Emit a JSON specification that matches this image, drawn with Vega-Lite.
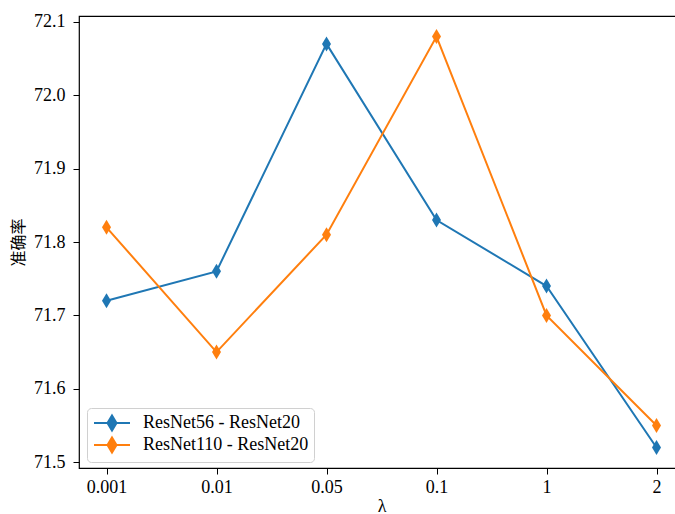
{
  "$schema": "https://vega.github.io/schema/vega-lite/v6.json",
  "width": 605,
  "height": 452,
  "autosize": {"type": "none"},
  "padding": {"left": 79, "top": 16, "right": 0, "bottom": 46},
  "background": "white",
  "config": {
    "view": {"stroke": "black", "strokeWidth": 1.2},
    "font": "Liberation Serif",
    "axis": {
      "domain": false,
      "grid": false,
      "ticks": true,
      "tickColor": "black",
      "tickSize": 6,
      "tickWidth": 1,
      "labelColor": "black",
      "labelFontSize": 18,
      "labelFont": "Liberation Serif",
      "titleFont": "Liberation Serif, Noto Sans CJK SC",
      "titleFontSize": 17,
      "titleFontWeight": "normal",
      "titleColor": "black"
    }
  },
  "data": {
    "values": [
      {"lambda": "0.001", "model": "ResNet56 - ResNet20", "acc": 71.72},
      {"lambda": "0.01", "model": "ResNet56 - ResNet20", "acc": 71.76},
      {"lambda": "0.05", "model": "ResNet56 - ResNet20", "acc": 72.07},
      {"lambda": "0.1", "model": "ResNet56 - ResNet20", "acc": 71.83},
      {"lambda": "1", "model": "ResNet56 - ResNet20", "acc": 71.74},
      {"lambda": "2", "model": "ResNet56 - ResNet20", "acc": 71.52},
      {"lambda": "0.001", "model": "ResNet110 - ResNet20", "acc": 71.82},
      {"lambda": "0.01", "model": "ResNet110 - ResNet20", "acc": 71.65},
      {"lambda": "0.05", "model": "ResNet110 - ResNet20", "acc": 71.81},
      {"lambda": "0.1", "model": "ResNet110 - ResNet20", "acc": 72.08},
      {"lambda": "1", "model": "ResNet110 - ResNet20", "acc": 71.70},
      {"lambda": "2", "model": "ResNet110 - ResNet20", "acc": 71.55}
    ]
  },
  "encoding": {
    "x": {
      "field": "lambda",
      "type": "ordinal",
      "sort": ["0.001", "0.01", "0.05", "0.1", "1", "2"],
      "scale": {"type": "point", "padding": 0.25},
      "axis": {"title": "λ", "labelAngle": 0, "labelPadding": 4, "titlePadding": 1, "titleFont": "Liberation Serif", "titleFontSize": 18}
    },
    "y": {
      "field": "acc",
      "type": "quantitative",
      "scale": {"domain": [71.492, 72.108], "nice": false, "zero": false},
      "axis": {"title": "准确率", "titleFont": "Noto Sans CJK SC", "titleFontSize": 16, "values": [71.5, 71.6, 71.7, 71.8, 71.9, 72.0, 72.1], "format": ".1f", "labelPadding": 8, "titlePadding": 7}
    },
    "color": {
      "field": "model",
      "type": "nominal",
      "sort": ["ResNet56 - ResNet20", "ResNet110 - ResNet20"],
      "scale": {"domain": ["ResNet56 - ResNet20", "ResNet110 - ResNet20"], "range": ["#1f77b4", "#ff7f0e"]},
      "legend": {
        "title": null,
        "orient": "none",
        "legendX": 8,
        "legendY": 392,
        "fillColor": "white",
        "strokeColor": "#d0d0d0",
        "cornerRadius": 4,
        "padding": 5,
        "labelFont": "Liberation Serif",
        "labelFontSize": 18,
        "labelColor": "black",
        "labelLimit": 400,
        "rowPadding": -4,
        "symbolType": "M-2,0L2,0M0,-0.83L0.5,0L0,0.83L-0.5,0Z",
        "symbolSize": 324,
        "symbolStrokeWidth": 2,
        "symbolOffset": 10,
        "labelOffset": 21
      }
    }
  },
  "layer": [
    {"mark": {"type": "line", "strokeWidth": 2}},
    {"mark": {"type": "point", "shape": "M0,-1L0.6,0L0,1L-0.6,0Z", "size": 225, "filled": true, "opacity": 1}}
  ]
}
